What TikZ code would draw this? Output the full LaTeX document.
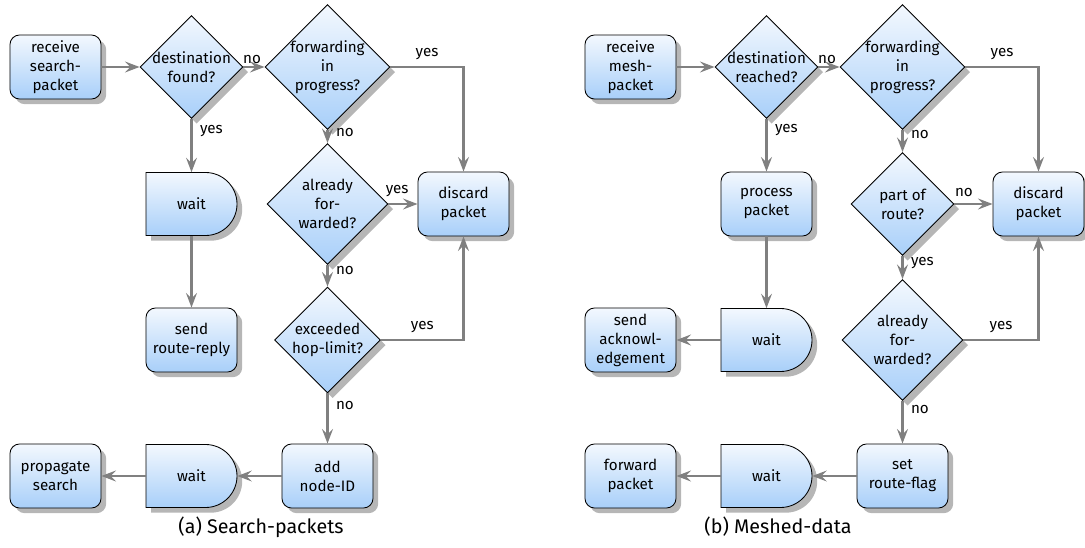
\documentclass[tikz,border=0pt]{standalone}
\usepackage{fontspec}
\setmainfont{Fira Sans}
\usetikzlibrary{shapes.geometric,shadows,arrows.meta,calc}
\definecolor{shadetop}{RGB}{243,248,254}
\definecolor{shadebot}{RGB}{168,207,249}
\definecolor{flowgray}{RGB}{128,128,128}
\definecolor{shadowgray}{RGB}{182,182,182}

% wait (delay) symbol: flat left side, half-round right side
\newcommand\waitshape[1]{%
  \path[fillshade] ($(#1)+(-45.5,-31.5)$) -- ++(59.5,0)
    arc[start angle=-90, end angle=90, radius=31.5] -- ++(-59.5,0) -- cycle;}

\begin{document}
\begin{tikzpicture}[x=0.025cm, y=0.025cm,
  every node/.style={font=\fontsize{10.8}{13.5}\selectfont},
  fillshade/.style={draw=black, line width=0.6pt,
    top color=shadetop, bottom color=shadebot,
    drop shadow={shadow xshift=0.13cm, shadow yshift=-0.13cm,
      fill=shadowgray, opacity=1}},
  box/.style={fillshade, rectangle, rounded corners=0.24cm,
    minimum width=2.275cm, minimum height=1.6cm, align=center, inner sep=1pt},
  dia/.style={fillshade, diamond, aspect=1, inner sep=0pt,
    minimum width=#1*0.025cm, minimum height=#1*0.025cm},
  waitarea/.style={rectangle, minimum width=2.275cm, minimum height=1.575cm,
    align=center, inner sep=1pt},
  dtext/.style={align=center, inner sep=0pt},
  flow/.style={draw=flowgray, line width=2.1pt,
    -{Stealth[length=0.36cm, width=0.27cm, inset=0.13cm, fill=flowgray]}},
  lbl/.style={inner sep=1pt, text=black},
  captext/.style={font=\fontsize{14}{16}\selectfont}]
\useasboundingbox (0,0) rectangle (1085,547);

% ---------------- (a) search packets ----------------
\node[box] (a-recv) at (55.5,480) {receive\\search-\\packet};
\node[dia=103, label={[dtext]center:destination\\found?}] (a-dest) at (191.5,480) {};
\node[dia=125, label={[dtext]center:forwarding\\in\\progress?}] (a-fwd) at (327.5,480) {};
\waitshape{191.5,343}
\node[waitarea] (a-wait1) at (191.5,343) {wait};
\node[dia=121, label={[dtext]center:already\\for-\\warded?}] (a-af) at (327.5,343) {};
\node[box] (a-disc) at (463.5,343) {discard\\packet};
\node[box] (a-send) at (191.5,207) {send\\route-reply};
\node[dia=106, label={[dtext]center:exceeded\\hop-limit?}] (a-ex) at (327.5,207) {};
\node[box] (a-add) at (327.5,71) {add\\node-ID};
\waitshape{191.5,71}
\node[waitarea] (a-wait2) at (191.5,71) {wait};
\node[box] (a-prop) at (55.5,71) {propagate\\search};
\node[captext] (a-cap) at (261,20) {(a) Search-packets};

\draw[flow] (a-recv) -- (a-dest);
\draw[flow] (a-dest) -- node[lbl, pos=0, anchor=south west, xshift=-0.08cm, yshift=0.02cm]{no} (a-fwd);
\draw[flow] (a-dest) -- node[lbl, pos=0.22, right=4pt]{yes} (a-wait1);
\draw[flow] (a-wait1) -- (a-send);
\draw[flow] (a-fwd) -| node[lbl, pos=0.25, above=3pt]{yes} (a-disc);
\draw[flow] (a-fwd) -- node[lbl, pos=0.2, right=4pt]{no} (a-af);
\draw[flow] (a-af) -- node[lbl, pos=0.3, above=3pt]{yes} (a-disc);
\draw[flow] (a-af) -- node[lbl, pos=0.25, right=4pt]{no} (a-ex);
\draw[flow] (a-ex) -| node[lbl, pos=0.25, above=3pt]{yes} (a-disc);
\draw[flow] (a-ex) -- node[lbl, pos=0.25, right=4pt]{no} (a-add);
\draw[flow] (a-add) -- (a-wait2);
\draw[flow] (a-wait2) -- (a-prop);

% ---------------- (b) meshed data ----------------
\node[box] (b-recv) at (630.5,480) {receive\\mesh-\\packet};
\node[dia=103, label={[dtext]center:destination\\reached?}] (b-dest) at (766.5,480) {};
\node[dia=125, label={[dtext]center:forwarding\\in\\progress?}] (b-fwd) at (902.5,480) {};
\node[box] (b-proc) at (766.5,343) {process\\packet};
\node[dia=103, label={[dtext]center:part of\\route?}] (b-part) at (902.5,343) {};
\node[box] (b-disc) at (1038.5,343) {discard\\packet};
\node[box] (b-ack) at (630.5,207) {send\\acknowl-\\edgement};
\waitshape{766.5,207}
\node[waitarea] (b-wait1) at (766.5,207) {wait};
\node[dia=121, label={[dtext]center:already\\for-\\warded?}] (b-af) at (902.5,207) {};
\node[box] (b-set) at (902.5,71) {set\\route-flag};
\waitshape{766.5,71}
\node[waitarea] (b-wait2) at (766.5,71) {wait};
\node[box] (b-fwdp) at (630.5,71) {forward\\packet};
\node[captext] (b-cap) at (778,20) {(b) Meshed-data};

\draw[flow] (b-recv) -- (b-dest);
\draw[flow] (b-dest) -- node[lbl, pos=0, anchor=south west, xshift=-0.08cm, yshift=0.02cm]{no} (b-fwd);
\draw[flow] (b-dest) -- node[lbl, pos=0.22, right=4pt]{yes} (b-proc);
\draw[flow] (b-proc) -- (b-wait1);
\draw[flow] (b-wait1) -- (b-ack);
\draw[flow] (b-fwd) -| node[lbl, pos=0.25, above=3pt]{yes} (b-disc);
\draw[flow] (b-fwd) -- node[lbl, pos=0.2, right=4pt]{no} (b-part);
\draw[flow] (b-part) -- node[lbl, pos=0.25, above=3pt]{no} (b-disc);
\draw[flow] (b-part) -- node[lbl, pos=0.3, right=4pt]{yes} (b-af);
\draw[flow] (b-af) -| node[lbl, pos=0.25, above=3pt]{yes} (b-disc);
\draw[flow] (b-af) -- node[lbl, pos=0.2, right=4pt]{no} (b-set);
\draw[flow] (b-set) -- (b-wait2);
\draw[flow] (b-wait2) -- (b-fwdp);
\end{tikzpicture}
\end{document}
